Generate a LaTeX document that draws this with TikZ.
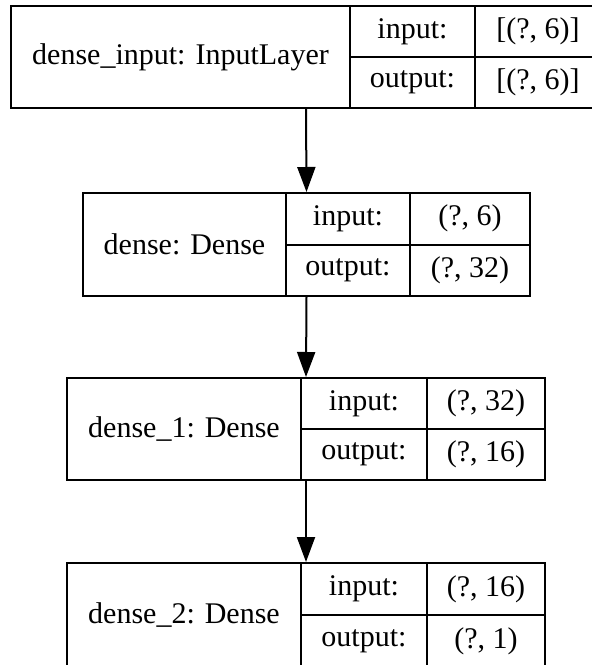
\documentclass[tikz,border=0pt]{standalone}
\usepackage{fontspec}
\setmainfont{Liberation Serif}
\usetikzlibrary{arrows.meta}

\tikzset{
  cell/.style={draw=black, line width=2pt, inner sep=0pt, font=\fontsize{30}{36}\selectfont},
  flow/.style={draw=black, line width=2pt, -{Triangle[length=25pt,width=18pt]}},
}

\begin{document}
\begin{tikzpicture}[x=1pt,y=-1pt]
  \useasboundingbox (0,0) rectangle (592,665);
  \clip (0,0) rectangle (592,665);
  % dense_input
  \begin{scope}[every node/.style={cell}]
    \node[minimum width=590pt, minimum height=102pt] (l0) at (306,57) {};
    \node[minimum width=339pt, minimum height=102pt] (n0) at (180.5,57) {dense\_input: InputLayer};
    \node[minimum width=125pt, minimum height=51pt] (ki0) at (412.5,31.5) {input:};
    \node[minimum width=125pt, minimum height=51pt] (ko0) at (412.5,82.5) {output:};
    \node[minimum width=126pt, minimum height=51pt] (vi0) at (538,31.5) {[(?, 6)]};
    \node[minimum width=126pt, minimum height=51pt] (vo0) at (538,82.5) {[(?, 6)]};
  \end{scope}
  % dense
  \begin{scope}[every node/.style={cell}]
    \node[minimum width=447pt, minimum height=103pt] (l1) at (306.5,244.5) {};
    \node[minimum width=203pt, minimum height=103pt] (n1) at (184.5,244.5) {dense: Dense};
    \node[minimum width=124pt, minimum height=51.5pt] (ki1) at (348,218.75) {input:};
    \node[minimum width=124pt, minimum height=51.5pt] (ko1) at (348,270.25) {output:};
    \node[minimum width=120pt, minimum height=51.5pt] (vi1) at (470,218.75) {(?, 6)};
    \node[minimum width=120pt, minimum height=51.5pt] (vo1) at (470,270.25) {(?, 32)};
  \end{scope}
  % dense_1
  \begin{scope}[every node/.style={cell}]
    \node[minimum width=478pt, minimum height=102pt] (l2) at (306,429) {};
    \node[minimum width=234pt, minimum height=102pt] (n2) at (184,429) {dense\_1: Dense};
    \node[minimum width=126pt, minimum height=51pt] (ki2) at (364,403.5) {input:};
    \node[minimum width=126pt, minimum height=51pt] (ko2) at (364,454.5) {output:};
    \node[minimum width=118pt, minimum height=51pt] (vi2) at (486,403.5) {(?, 32)};
    \node[minimum width=118pt, minimum height=51pt] (vo2) at (486,454.5) {(?, 16)};
  \end{scope}
  % dense_2
  \begin{scope}[every node/.style={cell}]
    \node[minimum width=478pt, minimum height=104pt] (l3) at (306,615) {};
    \node[minimum width=234pt, minimum height=104pt] (n3) at (184,615) {dense\_2: Dense};
    \node[minimum width=126pt, minimum height=52pt] (ki3) at (364,589) {input:};
    \node[minimum width=126pt, minimum height=52pt] (ko3) at (364,641) {output:};
    \node[minimum width=118pt, minimum height=52pt] (vi3) at (486,589) {(?, 16)};
    \node[minimum width=118pt, minimum height=52pt] (vo3) at (486,641) {(?, 1)};
  \end{scope}
  \draw[flow] (l0.south) -- (l1.north);
  \draw[flow] (l1.south) -- (l2.north);
  \draw[flow] (l2.south) -- (l3.north);
\end{tikzpicture}
\end{document}
